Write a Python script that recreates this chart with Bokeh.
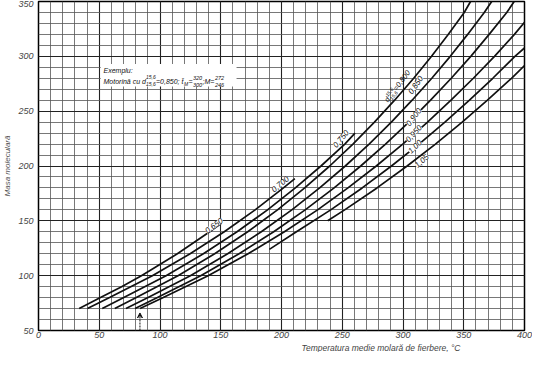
import math
from bokeh.plotting import figure
from bokeh.models import Range1d, FixedTicker, Arrow, VeeHead, Title
from bokeh.core.properties import value
from bokeh.embed import file_html
from bokeh.resources import INLINE

# ---- data ----
T_0650 = [33.5, 51.0, 68.4, 84.7, 114.3, 140.9, 150.7]
M_0650 = [70, 80, 90, 100, 120, 140, 148]

T_0700 = [40.3, 58.5, 93.7, 124.8, 152.9, 178.3, 201.6, 211.0]
M_0700 = [70, 80, 100, 120, 140, 160, 180, 188.5]

T_0750 = [52.5, 70.2, 105.0, 135.7, 163.4, 188.5, 211.4, 232.5, 252.1, 260.5]
M_0750 = [70, 80, 100, 120, 140, 160, 180, 200, 220, 230]

T_0800 = [62.8, 80.5, 114.8, 145.0, 172.2, 196.7, 219.1, 239.7, 258.8, 276.5, 293.1, 308.8, 323.5, 337.2, 350.4, 355.6]
M_0800 = [70, 80, 100, 120, 140, 160, 180, 200, 220, 240, 260, 280, 300, 320, 340, 350]

T_0850 = [72.0, 90.2, 125.0, 155.7, 183.4, 208.5, 231.4, 252.5, 272.1, 290.4, 307.5, 323.7, 338.9, 353.2, 366.9, 373.0]
M_0850 = [70, 80, 100, 120, 140, 160, 180, 200, 220, 240, 260, 280, 300, 320, 340, 350]

T_0900 = [79.5, 97.9, 133.5, 165.1, 193.6, 219.5, 243.3, 265.2, 285.6, 304.8, 322.7, 339.7, 355.8, 370.9, 385.4, 391.5]
M_0900 = [70, 80, 100, 120, 140, 160, 180, 200, 220, 240, 260, 280, 300, 320, 340, 350]

T_0950 = [83.6, 102.7, 139.6, 172.5, 202.4, 229.7, 254.7, 278.0, 299.8, 320.2, 339.5, 357.9, 375.3, 391.7, 400.0]
M_0950 = [70, 80, 100, 120, 140, 160, 180, 200, 220, 240, 260, 280, 300, 320, 331]

T_100 = [190.0, 212.3, 240.5, 266.4, 290.5, 313.2, 334.5, 354.7, 373.9, 392.1, 400.0]
M_100 = [124, 140, 160, 180, 200, 220, 240, 260, 280, 300, 307.6]

T_105 = [238.0, 252.0, 278.6, 303.4, 326.7, 348.7, 369.5, 389.3, 400.0]
M_105 = [150, 160, 180, 200, 220, 240, 260, 280, 291.5]

curves = [(T_0650, M_0650), (T_0700, M_0700), (T_0750, M_0750), (T_0800, M_0800),
          (T_0850, M_0850), (T_0900, M_0900), (T_0950, M_0950), (T_100, M_100), (T_105, M_105)]

x_ticks = [0, 50, 100, 150, 200, 250, 300, 350, 400]
y_ticks = [50, 100, 150, 200, 250, 300, 350]

lab_text = ["0,650", "0,700", "0,750", "0,850", "0,900", "0,950", "1,00", "1,05"]
lab_T = [144.5, 199.0, 249.0, 310.5, 309.0, 309.0, 310.0, 315.5]
lab_M = [145.5, 183.3, 224.6, 273.7, 244.5, 229.5, 217.5, 204.4]
lab_ang = [36, 40, 50, 56, 52, 48, 44, 42]

FONT = "Liberation Sans"
INK = "#111111"
GREY = "#444444"

p = figure(width=532, height=352, output_backend="svg", toolbar_location=None,
           x_range=Range1d(0, 400), y_range=Range1d(50, 350),
           min_border_left=4, min_border_right=8, min_border_top=1, min_border_bottom=0)
p.background_fill_color = "white"
p.border_fill_color = "white"
p.outline_line_color = "black"
p.outline_line_width = 1.5

p.xaxis.ticker = FixedTicker(ticks=x_ticks, minor_ticks=list(range(0, 401, 10)))
p.yaxis.ticker = FixedTicker(ticks=y_ticks, minor_ticks=list(range(50, 351, 10)))
for ax in (p.xaxis, p.yaxis):
    ax.axis_line_color = None
    ax.major_tick_line_color = None
    ax.minor_tick_line_color = None
    ax.major_tick_out = 0
    ax.minor_tick_out = 0
    ax.major_label_text_font = FONT
    ax.major_label_text_font_style = "italic"
    ax.major_label_text_font_size = "9px"
    ax.major_label_text_color = GREY
p.xaxis.major_label_standoff = 1
p.yaxis.major_label_standoff = 5

p.yaxis.axis_label = "Masa moleculară"
p.yaxis.axis_label_text_font = FONT
p.yaxis.axis_label_text_font_style = "italic"
p.yaxis.axis_label_text_font_size = "8px"
p.yaxis.axis_label_text_color = "#555555"
p.yaxis.axis_label_standoff = 3

p.add_layout(Title(text="Temperatura medie molară de fierbere, °C", align="right", offset=64,
                   standoff=0, text_font=FONT, text_font_style="italic",
                   text_font_size="8.5px", text_color=GREY), "below")

for g in (p.xgrid, p.ygrid):
    g.grid_line_color = "#222222"
    g.grid_line_width = 1.1
    g.minor_grid_line_color = "#555555"
    g.minor_grid_line_width = 0.8

for T, M in curves:
    p.line(T, M, line_color=INK, line_width=1.7)

# curve labels
p.text(x=lab_T, y=lab_M, text=lab_text, angle=lab_ang, angle_units="deg",
       text_font=value(FONT), text_font_style="italic", text_font_size="8px",
       text_color=INK, text_align="center", text_baseline="middle",
       background_fill_color="white")

# "d 15,6/15,6 = 0,800" rotated label, built from pieces along its direction
a = math.radians(53)
def off(s, n):
    return (s * math.cos(a) - n * math.sin(a), -(s * math.sin(a) + n * math.cos(a)))
pieces = [("d", 0, 0, "7.5px"), ("15,6", 4.5, 3.0, "5px"), ("15,6", 4.5, -2.5, "5px"),
          ("=0,800", 14.5, 0, "7.5px")]
for txt, s, n, fs in pieces:
    dx, dy = off(s, n)
    p.text(x=[286.0], y=[259.0], text=[txt], x_offset=dx, y_offset=dy, angle=53, angle_units="deg",
           text_font=value(FONT), text_font_style="italic", text_font_size=fs,
           text_color=INK, text_align="left", text_baseline="middle")

# example box
p.quad(left=[51.2], right=[163.0], bottom=[272.5], top=[293.0],
       fill_color="white", line_color=None)
ex = dict(text_font=value(FONT), text_font_style="italic", text_color=INK,
          text_baseline="middle", text_align="left")
p.text(x=[53.5], y=[287.5], text=["Exemplu:"], text_font_size="7px", **ex)
ex_pieces = [("Motorină cu d", 0, 0, "7px"), ("15,6", 42.5, -4, "5px"), ("15,6", 42.5, 3, "5px"),
             ("=0,850; t̄", 52.5, 0, "7px"), ("M", 80.5, 2.5, "5px"), ("=", 85, 0, "7px"),
             ("320", 89.5, -3.5, "5.5px"), ("300", 89.5, 3.5, "5.5px"), (";M=", 99, 0, "7px"),
             ("272", 111.5, -3.5, "5.5px"), ("246", 111.5, 3.5, "5.5px")]
for txt, dx, dy, fs in ex_pieces:
    p.text(x=[53.5], y=[277.4], text=[txt], x_offset=dx, y_offset=dy, text_font_size=fs, **ex)

p.add_layout(Arrow(end=VeeHead(size=5, line_color=INK, line_width=1), x_start=83.5, y_start=50,
                   x_end=83.5, y_end=66, line_color=INK, line_width=1, line_dash="2 1"))

open("out.html", "w").write(file_html(p, INLINE))
